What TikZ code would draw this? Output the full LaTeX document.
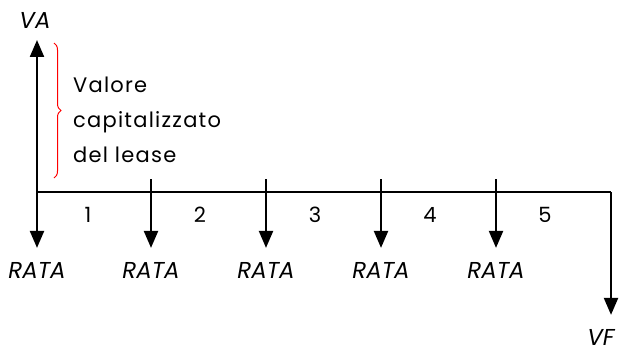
\documentclass[tikz,border=0pt]{standalone}
\usepackage{fontspec}
\setmainfont{Poppins}
\newfontfamily\spacedfont[LetterSpace=6]{Poppins}
\usetikzlibrary{arrows.meta,decorations.pathreplacing,positioning}

\begin{document}
\begin{tikzpicture}[x=0.5pt,y=-0.5pt,>={Triangle[length=8.5pt,width=7pt]},line width=1.1pt,
  lbl/.style={font=\itshape\fontsize{11.5}{12}\selectfont,inner sep=0pt},
  num/.style={font=\fontsize{10.5}{12}\selectfont,inner sep=0pt}]
  \useasboundingbox (0,0) rectangle (624,353);

  % time line
  \coordinate (t0) at (37,192);
  \coordinate (t5) at (611,192);
  \coordinate (top) at (37,40);
  \draw (t0) -- (t5);

  \node[lbl] (va) at (35,20) {VA};
  \draw[->] (t0) -- (top);

  % payments
  \node[lbl] (r0) at (37,270) {RATA};
  \draw[->,shorten >=6.5pt] (t0) -- (r0.north);
  \foreach \x/\n in {151/1,266/2,381/3,496/4} {
    \node[lbl] (r\n) at (\x,270) {RATA};
    \coordinate (s\n) at (\x,179);
    \draw[->,shorten >=6.5pt] (s\n) -- (r\n.north);
  }

  % periods
  \foreach \x/\n in {88/1,200/2,315/3,430/4,545/5}
    \node[num] (p\n) at (\x,215) {\n};

  % final value
  \node[lbl] (vf) at (601,337) {VF};
  \draw[->,shorten >=6.5pt] (t5) -- (vf.north -| t5);

  % brace
  \draw[red,line width=0.5pt,decorate,decoration={brace,amplitude=3.5pt}]
    (54,43) -- (54,178);
  \node[anchor=west,align=left,inner sep=0pt,
    font=\spacedfont\fontsize{10.5}{17.5}\selectfont] (cap) at (72,120)
    {Valore\\capitalizzato\\del lease};
\end{tikzpicture}
\end{document}
